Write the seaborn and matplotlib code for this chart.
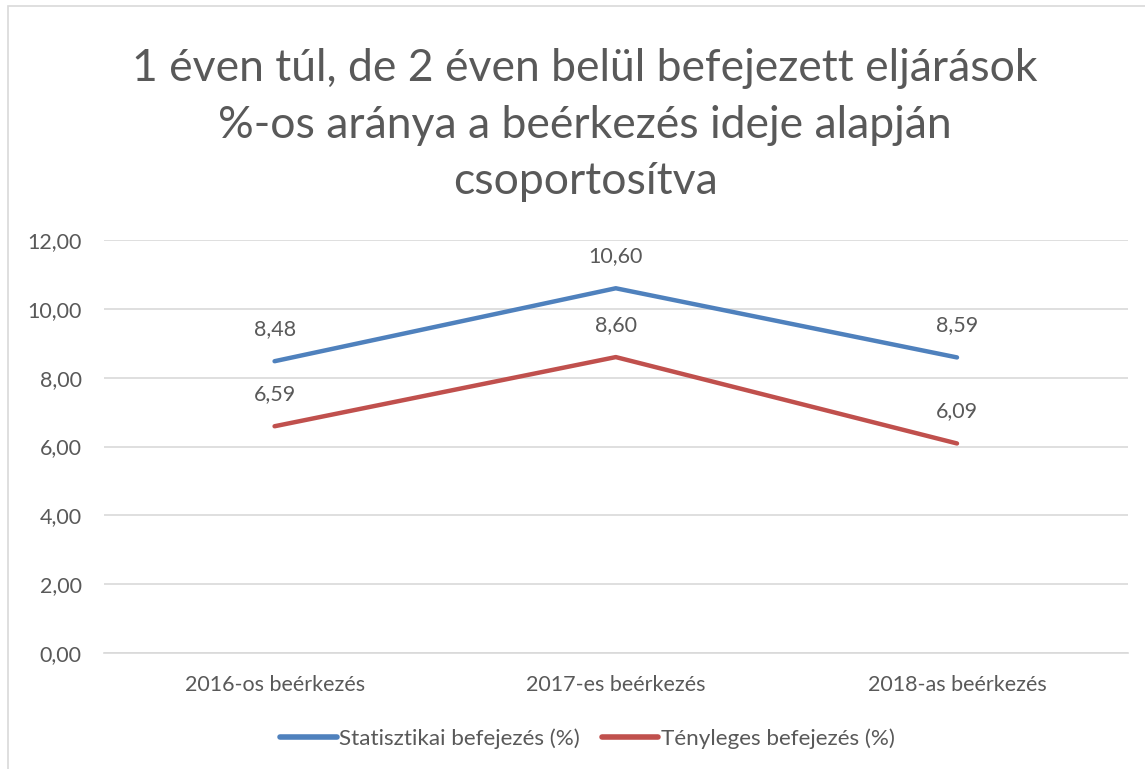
import matplotlib
matplotlib.use("Agg")
import matplotlib.pyplot as plt
import seaborn as sns
import pandas as pd
from matplotlib.patches import Rectangle
from matplotlib.lines import Line2D

categories = ["2016-os beérkezés", "2017-es beérkezés", "2018-as beérkezés"]
stat_values = [8.48, 10.60, 8.59]
teny_values = [6.59, 8.60, 6.09]
series_names = ["Statisztikai befejezés (%)", "Tényleges befejezés (%)"]
yticks = [0, 2, 4, 6, 8, 10, 12]
title = "1 éven túl, de 2 éven belül befejezett eljárások\n%-os aránya a beérkezés ideje alapján\ncsoportosítva"

sns.set_theme(style="white")
plt.rcParams['font.family'] = ['Lato', 'DejaVu Sans']

df = pd.DataFrame({
    "cat": categories * 2,
    "val": stat_values + teny_values,
    "series": [series_names[0]] * 3 + [series_names[1]] * 3,
})
df["x"] = [0, 1, 2, 0, 1, 2]

colors = {series_names[0]: "#4F81BD", series_names[1]: "#C0504D"}
text_color = "#595959"
fs = 15.5

fig = plt.figure(figsize=(11.45, 7.69), dpi=100)
ax = fig.add_axes([0.0908, 0.1508, 0.894, 0.537])

sns.lineplot(data=df, x="x", y="val", hue="series", palette=colors, linewidth=3.2,
             ax=ax, legend=False, solid_capstyle="round")

for s, vals in zip(series_names, [stat_values, teny_values]):
    for i, v in enumerate(vals):
        ax.annotate(f"{v:.2f}".replace(".", ","), (i, v), xytext=(0, 23),
                    textcoords="offset points", ha="center", va="center",
                    fontsize=fs, color=text_color)

ax.set_xlim(-0.5, 2.5)
ax.set_ylim(0, 12)
ax.set_yticks(yticks)
ax.set_yticklabels([f"{t:.2f}".replace(".", ",") for t in yticks], fontsize=fs, color=text_color)
ax.set_xticks(range(len(categories)))
ax.set_xticklabels(categories, fontsize=fs, color=text_color)
ax.tick_params(axis="y", length=0, pad=16)
ax.tick_params(axis="x", length=0, pad=16)
ax.set_xlabel("")
ax.set_ylabel("")
ax.yaxis.grid(True, color="#D9D9D9", linewidth=1.2)
ax.set_axisbelow(True)
for sp in ["top", "right", "left"]:
    ax.spines[sp].set_visible(False)
ax.spines["bottom"].set_color("#D9D9D9")
ax.spines["bottom"].set_linewidth(1.2)

fig.text(0.511, 0.937, title, ha="center", va="top", fontsize=32, color=text_color,
         linespacing=1.46)

handles = [Line2D([0], [0], color=colors[s], linewidth=4, solid_capstyle="round") for s in series_names]
fig.legend(handles, series_names, loc="center", bbox_to_anchor=(0.513, 0.04), ncol=2,
           frameon=False, fontsize=16.2, handlelength=2.5, handletextpad=0.1,
           columnspacing=1.0, labelcolor=text_color)

fig.patches.append(Rectangle((8 / 1145, -0.01), 1.1, 1 - 6 / 769 + 0.01, transform=fig.transFigure,
                             fill=False, edgecolor="#D9D9D9", linewidth=1.2))

fig.savefig("out.png", dpi=100)
